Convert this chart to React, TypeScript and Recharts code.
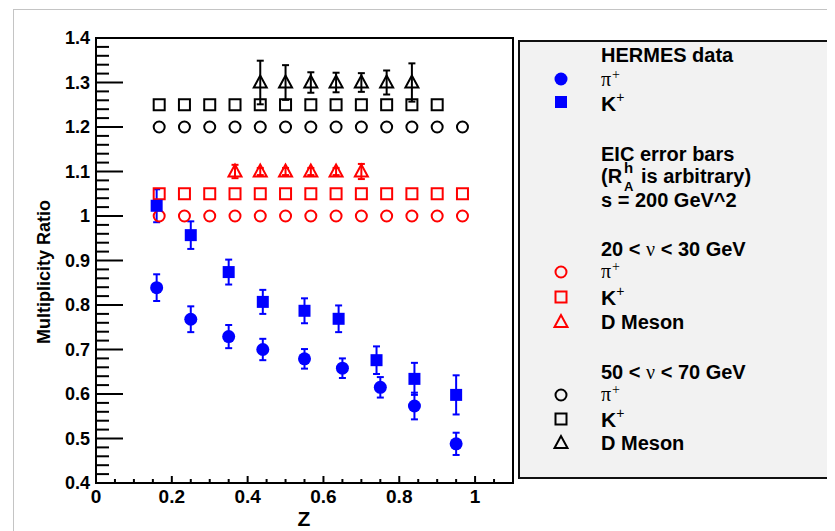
import React from "react"
import { ScatterChart, Scatter, XAxis, YAxis, ErrorBar, ReferenceArea, Legend } from "recharts"

// HERMES measurements
const hermesPiZ = [0.16, 0.25, 0.35, 0.44, 0.55, 0.65, 0.75, 0.84, 0.95]
const hermesPi = [0.839, 0.768, 0.729, 0.7, 0.679, 0.658, 0.615, 0.573, 0.488]
const hermesPiErr = [0.03, 0.029, 0.026, 0.024, 0.022, 0.022, 0.023, 0.03, 0.025]

const hermesKZ = [0.16, 0.25, 0.35, 0.44, 0.55, 0.64, 0.74, 0.84, 0.95]
const hermesK = [1.023, 0.957, 0.874, 0.807, 0.787, 0.769, 0.676, 0.634, 0.598]
const hermesKErr = [0.037, 0.031, 0.028, 0.027, 0.028, 0.03, 0.031, 0.036, 0.044]

// EIC projections (z bin centres)
const eicZ = [0.1667, 0.2333, 0.3, 0.3667, 0.4333, 0.5, 0.5667, 0.6333, 0.7, 0.7667, 0.8333, 0.9, 0.9667]
const eicPiLow = [1, 1, 1, 1, 1, 1, 1, 1, 1, 1, 1, 1, 1]
const eicKLow = [1.05, 1.05, 1.05, 1.05, 1.05, 1.05, 1.05, 1.05, 1.05, 1.05, 1.05, 1.05, 1.05]
const eicDLowZ = [0.3667, 0.4333, 0.5, 0.5667, 0.6333, 0.7]
const eicDLow = [1.1, 1.1, 1.1, 1.1, 1.1, 1.1]
const eicDLowErr = [0.015, 0.008, 0.008, 0.008, 0.008, 0.017]

const eicPiHigh = [1.2, 1.2, 1.2, 1.2, 1.2, 1.2, 1.2, 1.2, 1.2, 1.2, 1.2, 1.2, 1.2]
const eicKHighZ = [0.1667, 0.2333, 0.3, 0.3667, 0.4333, 0.5, 0.5667, 0.6333, 0.7, 0.7667, 0.8333, 0.9]
const eicKHigh = [1.25, 1.25, 1.25, 1.25, 1.25, 1.25, 1.25, 1.25, 1.25, 1.25, 1.25, 1.25]
const eicDHighZ = [0.4333, 0.5, 0.5667, 0.6333, 0.7, 0.7667, 0.8333]
const eicDHigh = [1.3, 1.3, 1.3, 1.3, 1.3, 1.3, 1.3]
const eicDHighErr = [0.049, 0.039, 0.023, 0.022, 0.021, 0.027, 0.043]

// axis ticks
const xMajorTicks = [0, 0.2, 0.4, 0.6, 0.8, 1]
const xTickLabels = ["0", "0.2", "0.4", "0.6", "0.8", "1"]
const yMajorTicks = [0.4, 0.5, 0.6, 0.7, 0.8, 0.9, 1, 1.1, 1.2, 1.3, 1.4]
const yTickLabels = ["0.4", "0.5", "0.6", "0.7", "0.8", "0.9", "1", "1.1", "1.2", "1.3", "1.4"]

const xTicks: number[] = []
for (let i = 0; i <= 22; i++) xTicks.push(+(i * 0.05).toFixed(2))
const yTicks: number[] = []
for (let i = 0; i <= 50; i++) yTicks.push(+(0.4 + i * 0.02).toFixed(2))

const BLUE = "#0000ff"
const RED = "#ff0000"
const BLACK = "#000000"
const FONT = "'Liberation Sans', Arial, Helvetica, sans-serif"

const toRows = (zs: number[], vs: number[], errs?: number[]) =>
  zs.map((z, i) => ({ z, v: vs[i], err: errs ? errs[i] : 0 }))

type Kind = "circle" | "square" | "triangle"

function Marker({ cx, cy, kind, color, filled }: { cx: number; cy: number; kind: Kind; color: string; filled: boolean }) {
  const fill = filled ? color : "none"
  const sw = filled ? 0 : 2
  if (kind === "circle") return <circle cx={cx} cy={cy} r={filled ? 6.5 : 5.5} fill={fill} stroke={color} strokeWidth={sw} />
  if (kind === "square") {
    const s = filled ? 12 : 11
    return <rect x={cx - s / 2} y={cy - s / 2} width={s} height={s} fill={fill} stroke={color} strokeWidth={sw} />
  }
  return <polygon points={`${cx},${cy - 7} ${cx - 6.5},${cy + 5} ${cx + 6.5},${cy + 5}`} fill={fill} stroke={color} strokeWidth={sw} />
}

const shapeOf = (kind: Kind, color: string, filled: boolean) => (p: any) => (
  <Marker cx={p.cx} cy={p.cy} kind={kind} color={color} filled={filled} />
)

function XTick(props: any) {
  const { x, y, payload } = props
  const idx = xMajorTicks.findIndex((t) => Math.abs(t - payload.value) < 1e-6)
  const major = idx >= 0
  return (
    <g>
      <line x1={x} x2={x} y1={y} y2={y - (major ? 7 : 4)} stroke="#000" strokeWidth={2} />
      {major && (
        <text x={x} y={y + 13} textAnchor="middle" dominantBaseline="central" fontFamily={FONT} fontWeight="bold" fontSize={19} fill="#000">
          {xTickLabels[idx]}
        </text>
      )}
    </g>
  )
}

function YTick(props: any) {
  const { x, y, payload } = props
  const idx = yMajorTicks.findIndex((t) => Math.abs(t - payload.value) < 1e-6)
  const major = idx >= 0
  return (
    <g>
      <line x1={x} x2={x + (major ? 27 : 13)} y1={y} y2={y} stroke="#000" strokeWidth={2} />
      {major && (
        <text x={x - 6} y={y} textAnchor="end" dominantBaseline="central" fontFamily={FONT} fontWeight="bold" fontSize={18} fill="#000">
          {yTickLabels[idx]}
        </text>
      )}
    </g>
  )
}

function Pi({ x, y }: { x: number; y: number }) {
  return (
    <text x={x} y={y} fontFamily="'Liberation Serif', 'DejaVu Serif', serif" fontSize={20}>
      π<tspan dx={1} dy={-7} fontSize={14}>+</tspan>
    </text>
  )
}

function K({ x, y }: { x: number; y: number }) {
  return (
    <text x={x} y={y} fontFamily={FONT} fontWeight="bold" fontSize={21}>
      K<tspan dy={-9} fontSize={14} fontWeight="normal">+</tspan>
    </text>
  )
}

function LegendBox() {
  const mx = 41
  const tx = 81
  const bold = { fontFamily: FONT, fontWeight: "bold", fontSize: 20 } as const
  return (
    <div style={{ width: 317, height: 439, background: "#f2f2f2", border: "2px solid #111", borderRight: "none", boxSizing: "border-box" }}>
      <svg width={315} height={435} style={{ display: "block" }}>
        <text x={tx} y={20} {...bold}>HERMES data</text>
        <Marker cx={mx} cy={37} kind="circle" color={BLUE} filled />
        <Pi x={tx} y={44} />
        <Marker cx={mx} cy={60} kind="square" color={BLUE} filled />
        <K x={tx} y={69} />

        <text x={tx} y={119} {...bold}>EIC error bars</text>
        <text x={tx} y={141} {...bold}>
          (R<tspan x={tx + 23} dy={-10} fontSize={15}>h</tspan>
          <tspan x={tx + 23} dy={18} fontSize={13}>A</tspan>
          <tspan x={tx + 40} dy={-8}>is arbitrary)</tspan>
        </text>
        <text x={tx} y={165} {...bold}>s = 200 GeV^2</text>

        <text x={tx} y={214} {...bold}>
          20 &lt; <tspan fontFamily="'Liberation Serif', serif" fontWeight="normal">ν</tspan> &lt; 30 GeV
        </text>
        <Marker cx={mx} cy={230} kind="circle" color={RED} filled={false} />
        <Pi x={tx} y={236} />
        <Marker cx={mx} cy={255} kind="square" color={RED} filled={false} />
        <K x={tx} y={263} />
        <Marker cx={mx} cy={280} kind="triangle" color={RED} filled={false} />
        <text x={tx} y={287} {...bold}>D Meson</text>

        <text x={tx} y={337} {...bold}>
          50 &lt; <tspan fontFamily="'Liberation Serif', serif" fontWeight="normal">ν</tspan> &lt; 70 GeV
        </text>
        <Marker cx={mx} cy={353} kind="circle" color={BLACK} filled={false} />
        <Pi x={tx} y={359} />
        <Marker cx={mx} cy={377} kind="square" color={BLACK} filled={false} />
        <K x={tx} y={385} />
        <Marker cx={mx} cy={401} kind="triangle" color={BLACK} filled={false} />
        <text x={tx} y={408} {...bold}>D Meson</text>
      </svg>
    </div>
  )
}

export default function App() {
  return (
    <div style={{ position: "relative", width: 827, height: 523, fontFamily: FONT }}>
      <div style={{ position: "absolute", left: 5, top: 1, right: 0, bottom: 0, borderLeft: "1px solid #c4c4c4", borderTop: "1px solid #c4c4c4" }} />
      <div style={{ position: "absolute", left: 138, top: -40, fontSize: 38, lineHeight: 1, fontWeight: "bold", color: "#00b140", whiteSpace: "nowrap" }}>
        Multiplicity
      </div>
      <ScatterChart width={827} height={523} margin={{ top: 30, right: 322, bottom: 8, left: 28 }}>
        <XAxis
          type="number"
          dataKey="z"
          domain={[0, 1.1]}
          allowDataOverflow
          ticks={xTicks}
          interval={0}
          tickSize={0}
          tickMargin={0}
          tickLine={false}
          axisLine={false}
          height={40}
          tick={(p: any) => <XTick {...p} />}
          label={() => (
            <text x={296} y={518} textAnchor="middle" fontFamily={FONT} fontWeight="bold" fontSize={21}>Z</text>
          )}
        />
        <YAxis
          type="number"
          dataKey="v"
          domain={[0.4, 1.4]}
          allowDataOverflow
          ticks={yTicks}
          interval={0}
          tickSize={0}
          tickMargin={0}
          tickLine={false}
          axisLine={false}
          width={60}
          tick={(p: any) => <YTick {...p} />}
          label={() => (
            <text x={36} y={264} transform="rotate(-90 36 264)" textAnchor="middle" dominantBaseline="central" fontFamily={FONT} fontWeight="bold" fontSize={18}>
              Multiplicity Ratio
            </text>
          )}
        />
        <Legend layout="vertical" align="center" verticalAlign="middle" wrapperStyle={{ left: 510, top: 32, width: 317, height: 439 }} content={() => <LegendBox />} />

        <Scatter name="pi 20-30" data={toRows(eicZ, eicPiLow)} shape={shapeOf("circle", RED, false)} isAnimationActive={false} />
        <Scatter name="K 20-30" data={toRows(eicZ, eicKLow)} shape={shapeOf("square", RED, false)} isAnimationActive={false} />
        <Scatter name="D 20-30" data={toRows(eicDLowZ, eicDLow, eicDLowErr)} shape={shapeOf("triangle", RED, false)} isAnimationActive={false}>
          <ErrorBar dataKey="err" direction="y" width={3.5} strokeWidth={2} stroke={RED} />
        </Scatter>
        <Scatter name="pi 50-70" data={toRows(eicZ, eicPiHigh)} shape={shapeOf("circle", BLACK, false)} isAnimationActive={false} />
        <Scatter name="K 50-70" data={toRows(eicKHighZ, eicKHigh)} shape={shapeOf("square", BLACK, false)} isAnimationActive={false} />
        <Scatter name="D 50-70" data={toRows(eicDHighZ, eicDHigh, eicDHighErr)} shape={shapeOf("triangle", BLACK, false)} isAnimationActive={false}>
          <ErrorBar dataKey="err" direction="y" width={3.5} strokeWidth={2} stroke={BLACK} />
        </Scatter>
        <Scatter name="HERMES pi" data={toRows(hermesPiZ, hermesPi, hermesPiErr)} shape={shapeOf("circle", BLUE, true)} isAnimationActive={false}>
          <ErrorBar dataKey="err" direction="y" width={3.5} strokeWidth={2} stroke={BLUE} />
        </Scatter>
        <Scatter name="HERMES K" data={toRows(hermesKZ, hermesK, hermesKErr)} shape={shapeOf("square", BLUE, true)} isAnimationActive={false}>
          <ErrorBar dataKey="err" direction="y" width={3.5} strokeWidth={2} stroke={BLUE} />
        </Scatter>

        <ReferenceArea x1={0} x2={1.1} y1={0.4} y2={1.4} fill="none" stroke="#000" strokeWidth={2} ifOverflow="visible" />
      </ScatterChart>
    </div>
  )
}
